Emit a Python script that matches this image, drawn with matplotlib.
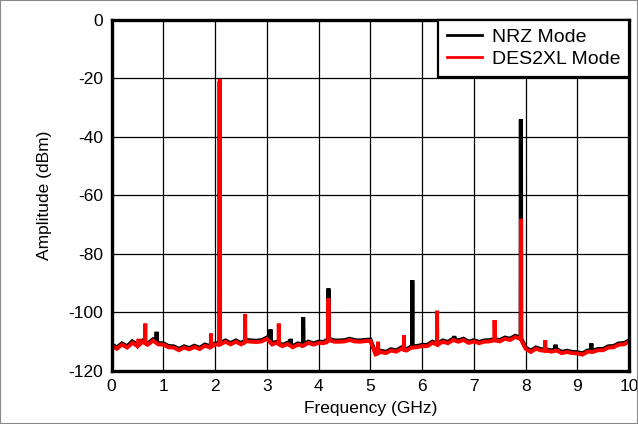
import numpy as np
import matplotlib.pyplot as plt
from matplotlib.patches import Rectangle

plt.rcParams['font.family'] = ['Liberation Sans', 'DejaVu Sans']
plt.rcParams['axes.unicode_minus'] = False

# noise floor, one value every 0.1 GHz from 0 to 10 GHz
floor_freq = np.linspace(0, 10, 101)
nrz_floor = [-110.9, -112.0, -110.6, -111.6, -109.9, -111.0, -109.6, -110.6, -109.2, -110.5,
             -110.6, -111.5, -111.6, -112.5, -111.6, -112.2, -111.4, -112.1, -111.0, -111.5,
             -110.6, -110.5, -109.6, -110.5, -109.6, -110.5, -109.4, -109.6, -109.7, -109.5,
             -108.6, -110.5, -110.0, -111.1, -110.4, -111.5, -110.6, -111.0, -110.0, -110.6,
             -110.0, -110.1, -109.0, -109.6, -109.6, -109.5, -109.0, -109.5, -109.6, -109.4,
             -109.3, -113.9, -113.1, -113.5, -112.6, -113.0, -112.0, -112.6, -111.6, -111.5,
             -111.1, -111.1, -110.0, -110.6, -109.6, -110.1, -109.0, -109.6, -109.0, -110.0,
             -109.5, -110.1, -109.6, -109.5, -109.1, -109.5, -108.6, -109.0, -108.0, -108.6,
             -112.0, -113.1, -112.0, -112.6, -112.6, -113.0, -112.6, -113.5, -113.1, -113.5,
             -113.6, -114.0, -113.0, -113.1, -112.5, -112.5, -111.6, -111.5, -110.6, -110.5,
             -109.6]
des_floor = [-111.4, -112.4, -111.0, -112.0, -110.4, -111.5, -110.0, -111.0, -109.6, -110.9,
             -111.0, -111.9, -112.0, -112.9, -112.0, -112.6, -111.8, -112.5, -111.4, -111.9,
             -111.0, -110.9, -110.0, -110.9, -110.0, -110.9, -109.8, -110.0, -110.1, -109.9,
             -109.0, -110.9, -110.4, -111.5, -110.8, -111.9, -111.0, -111.4, -110.4, -111.0,
             -110.4, -110.5, -109.4, -110.0, -110.0, -109.9, -109.4, -109.9, -110.0, -109.8,
             -109.7, -114.3, -113.5, -113.9, -113.0, -113.4, -112.4, -113.0, -112.0, -111.9,
             -111.5, -111.5, -110.4, -111.0, -110.0, -110.5, -109.4, -110.0, -109.4, -110.4,
             -109.9, -110.5, -110.0, -109.9, -109.5, -109.9, -109.0, -109.4, -108.4, -109.0,
             -112.4, -113.5, -112.4, -113.0, -113.0, -113.4, -113.0, -113.9, -113.5, -113.9,
             -114.0, -114.4, -113.4, -113.5, -112.9, -112.9, -112.0, -111.9, -111.0, -110.9,
             -110.0]

# spurs (GHz, dBm)
nrz_spur_freq = [0.87, 2.09, 3.07, 3.46, 3.70, 4.19, 5.81, 6.62, 7.91, 8.58, 9.27]
nrz_spur_amp = [-106.6, -21.0, -105.8, -109.0, -101.7, -91.8, -89.0, -108.0, -34.0, -111.0, -110.6]
des_spur_freq = [0.52, 0.65, 1.92, 2.09, 2.58, 3.23, 4.19, 5.15, 5.65, 6.29, 7.40, 7.91, 8.38]
des_spur_amp = [-109.0, -103.8, -107.2, -20.2, -100.6, -103.8, -95.2, -110.0, -107.8, -99.4, -102.6, -68.0, -109.5]


def build_trace(freq, floor, spur_f, spur_a):
    f = list(freq)
    a = list(floor)
    for sf, sa in zip(spur_f, spur_a):
        base = np.interp(sf, freq, floor)
        f += [sf - 0.004, sf, sf + 0.004]
        a += [base, sa, base]
    order = np.argsort(f, kind='stable')
    return np.array(f)[order], np.array(a)[order]


nrz_f, nrz_a = build_trace(floor_freq, nrz_floor, nrz_spur_freq, nrz_spur_amp)
des_f, des_a = build_trace(floor_freq, des_floor, des_spur_freq, des_spur_amp)

fig = plt.figure(figsize=(6.38, 4.24), dpi=100)
ax = fig.add_axes([0.175, 0.125, 0.811, 0.828])

ax.plot(nrz_f, nrz_a, color='black', lw=3.0, label='NRZ Mode', solid_joinstyle='miter')
ax.plot(des_f, des_a, color='#ff0000', lw=2.8, label='DES2XL Mode', solid_joinstyle='miter')

ax.set_xlim(0, 10)
ax.set_ylim(-120, 0)
ax.set_xticks(range(0, 11))
ax.set_yticks(range(-120, 1, 20))
ax.grid(True, color='black', lw=0.9)
ax.set_axisbelow(True)
ax.tick_params(length=0, labelsize=12.5, pad=6)
for s in ax.spines.values():
    s.set_linewidth(2.4)

ax.set_xlabel('Frequency (GHz)', fontsize=12.5, labelpad=5)
ax.set_ylabel('Amplitude (dBm)', fontsize=12.5, labelpad=12)

leg = ax.legend(loc='upper right', borderaxespad=0, fancybox=False, framealpha=1,
                edgecolor='black', fontsize=14, handlelength=1.8, handletextpad=0.5,
                borderpad=0.45, labelspacing=0.2)
leg.get_frame().set_linewidth(1.6)
for h in leg.legend_handles:
    h.set_linewidth(2)

fig.patches.append(Rectangle((0, 0), 1, 1, transform=fig.transFigure, fill=False,
                             edgecolor='#888888', lw=1.5))

fig.savefig('out.png', dpi=100)
